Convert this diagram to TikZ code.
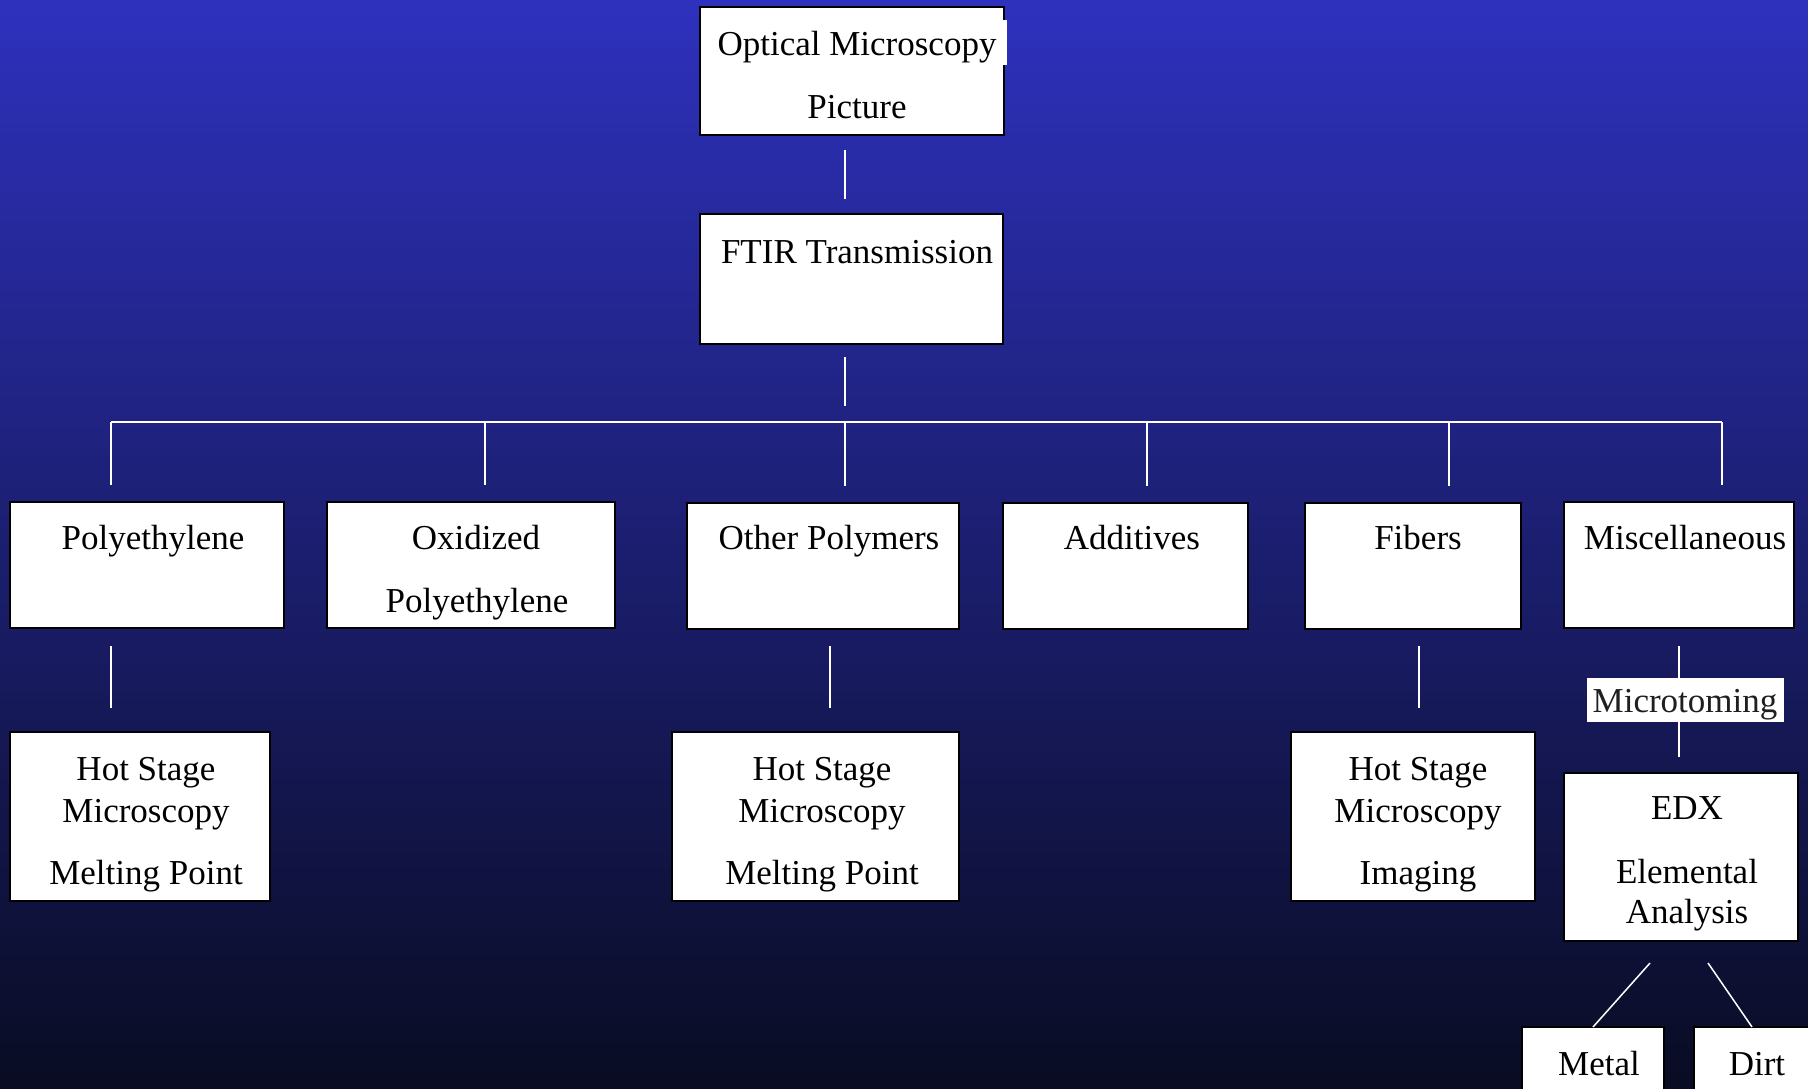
\documentclass[tikz,border=0pt]{standalone}
\usepackage{fontspec}
\setmainfont{Liberation Serif}
\usetikzlibrary{calc}
\definecolor{bgtop}{RGB}{46,49,189}
\definecolor{bgmid}{RGB}{30,33,125}
\definecolor{bgbot}{RGB}{9,12,34}
\begin{document}
\begin{tikzpicture}[x=0.5pt,y=-0.5pt,
  box/.style={draw=black, line width=1pt, fill=white, inner sep=0pt, outer sep=0pt, anchor=north west},
  txt/.style={anchor=base, inner sep=0pt, font=\fontsize{17.5pt}{21pt}\selectfont, text=black},
  conn/.style={draw=white, line width=0.75pt},
]
\useasboundingbox (0,0) rectangle (1808,1088);
\clip (0,0) rectangle (1808,1088);
\shade[top color=bgtop, middle color=bgmid, bottom color=bgbot] (0,0) rectangle (1808,1088);

% boxes
\node[box, minimum width=152pt, minimum height=64pt] (opt) at (700,7) {};
\fill[white] (1003,20) rectangle (1007,65);
\node[box, minimum width=151.5pt, minimum height=65pt] (ftir) at (700,214) {};

\node[box, minimum width=137pt, minimum height=63pt] (poly) at (10,502) {};
\node[box, minimum width=144pt, minimum height=63pt] (oxi) at (327,502) {};
\node[box, minimum width=136pt, minimum height=63pt] (oth) at (687,503) {};
\node[box, minimum width=122.5pt, minimum height=63pt] (add) at (1003,503) {};
\node[box, minimum width=108pt, minimum height=63pt] (fib) at (1305,503) {};
\node[box, minimum width=115pt, minimum height=63pt] (misc) at (1564,502) {};

\node[box, minimum width=130pt, minimum height=84.5pt] (hsma) at (10,732) {};
\node[box, minimum width=143.5pt, minimum height=84.5pt] (hsmb) at (672,732) {};
\node[box, minimum width=122pt, minimum height=84.5pt] (hsmc) at (1291,732) {};
\node[box, minimum width=117pt, minimum height=84pt] (edx) at (1564,773) {};
\node[box, minimum width=71pt, minimum height=40pt] (metal) at (1522,1027) {};
\node[box, minimum width=70pt, minimum height=40pt] (dirt) at (1694,1027) {};

% texts
\node[txt] (t-opt1) at (857,55) {Optical Microscopy};
\node[txt] (t-opt2) at (857,118) {Picture};
\node[txt] (t-ftir) at (857,263) {FTIR Transmission};
\node[txt] (t-poly) at (153,549) {Polyethylene};
\node[txt] (t-oxi1) at (476,549) {Oxidized};
\node[txt] (t-oxi2) at (477,612) {Polyethylene};
\node[txt] (t-oth) at (829,549) {Other Polymers};
\node[txt] (t-add) at (1132,549) {Additives};
\node[txt] (t-fib) at (1418,549) {Fibers};
\node[txt] (t-misc) at (1685,549) {Miscellaneous};

\node[txt] (t-ha1) at (146,780) {Hot Stage};
\node[txt] (t-ha2) at (146,822) {Microscopy};
\node[txt] (t-ha3) at (146,884) {Melting Point};
\node[txt] (t-hb1) at (822,780) {Hot Stage};
\node[txt] (t-hb2) at (822,822) {Microscopy};
\node[txt] (t-hb3) at (822,884) {Melting Point};
\node[txt] (t-hc1) at (1418,780) {Hot Stage};
\node[txt] (t-hc2) at (1418,822) {Microscopy};
\node[txt] (t-hc3) at (1418,884) {Imaging};

\node[txt] (t-edx1) at (1687,819) {EDX};
\node[txt] (t-edx2) at (1687,883) {Elemental};
\node[txt] (t-edx3) at (1687,923) {Analysis};
\node[txt] (t-metal) at (1599,1075) {Metal};
\node[txt] (t-dirt) at (1757,1075) {Dirt};

% connector positions
\coordinate (cx) at (845,0);
\coordinate (b1) at (111,422);
\coordinate (b2) at (485,422);
\coordinate (b3) at (845,422);
\coordinate (b4) at (1147,422);
\coordinate (b5) at (1449,422);
\coordinate (b6) at (1722,422);
\coordinate (ux) at (830,0);
\coordinate (fx) at (1419,0);
\coordinate (mx) at (1679,0);
\coordinate (el) at (1650,963);
\coordinate (er) at (1708,963);
\coordinate (ml) at (1593,0);
\coordinate (dr) at (1752,0);

% connectors
\draw[conn, shorten <=7.5pt, shorten >=7.5pt] (opt.south -| cx) -- (ftir.north -| cx);
\draw[conn, shorten <=6.5pt, shorten >=8pt] (ftir.south -| cx) -- (b3);
\draw[conn] (b1) -- (b6);
\foreach \b/\n in {b1/poly, b2/oxi, b3/oth, b4/add, b5/fib, b6/misc}
  \draw[conn, shorten >=8.5pt] (\b) -- (\n.north -| \b);
\draw[conn, shorten <=9pt, shorten >=12pt] (poly.south -| b1) -- (hsma.north -| b1);
\draw[conn, shorten <=8.5pt, shorten >=12pt] (oth.south -| ux) -- (hsmb.north -| ux);
\draw[conn, shorten <=8.5pt, shorten >=12pt] (fib.south -| fx) -- (hsmc.north -| fx);
\draw[conn, shorten <=9pt, shorten >=8pt] (misc.south -| mx) -- (edx.north -| mx);
\node[fill=white, inner sep=0pt, minimum width=98.5pt, minimum height=22pt] (micro) at (1685.5,700) {};
\node[txt, text=black!88] (t-micro) at (1685,712) {Microtoming};
\draw[conn] (el) -- (metal.north -| ml);
\draw[conn] (er) -- (dirt.north -| dr);
\end{tikzpicture}
\end{document}
